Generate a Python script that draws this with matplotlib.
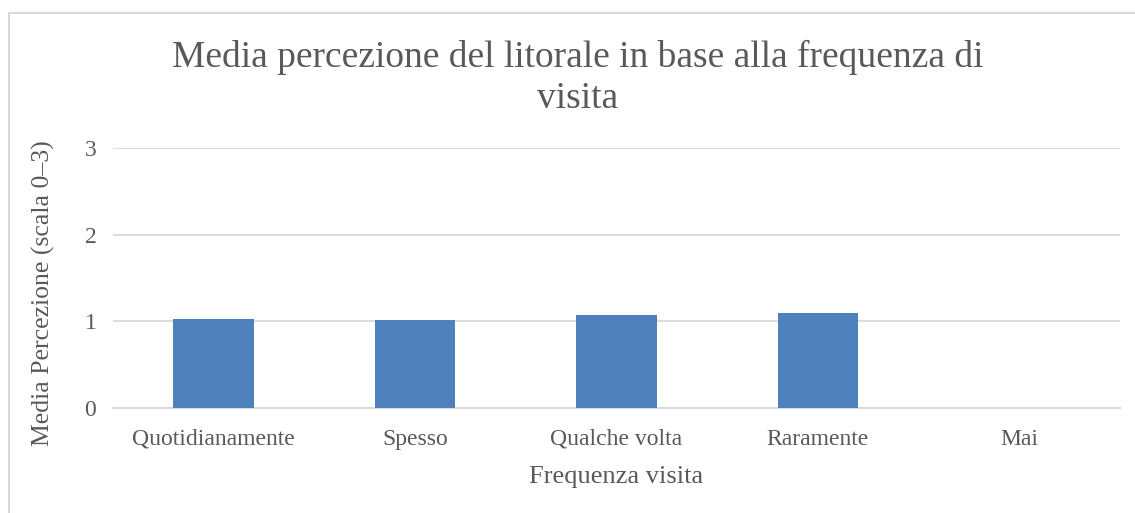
import matplotlib.pyplot as plt
from matplotlib.lines import Line2D

categories = ["Quotidianamente", "Spesso", "Qualche volta", "Raramente", "Mai"]
media_percezione = [1.03, 1.01, 1.07, 1.09, 0.0]
y_ticks = [0, 1, 2, 3]

plt.rcParams["font.family"] = ["Liberation Serif", "DejaVu Serif"]
text_color = "#595959"

fig = plt.figure(figsize=(11.35, 5.13), dpi=100)
ax = fig.add_axes([113 / 1135, 105.3 / 513, 1007 / 1135, 259.7 / 513])

# Chart border (Excel-style): only top and left edges are inside the picture
bx, by = 8.5 / 1135, 1 - 12.5 / 513
fig.lines.append(Line2D([bx, 1.0], [by, by], transform=fig.transFigure,
                        color="#D9D9D9", linewidth=1.5))
fig.lines.append(Line2D([bx, bx], [0.0, by], transform=fig.transFigure,
                        color="#D9D9D9", linewidth=1.5))

ax.bar(range(len(categories)), media_percezione, width=0.4,
       color="#4F81BD", zorder=3)

ax.set_xlim(-0.5, len(categories) - 0.5)
ax.set_ylim(0, 3)
ax.set_yticks(y_ticks)
ax.set_xticks(range(len(categories)))
ax.set_xticklabels(categories)
ax.tick_params(axis="both", length=0, labelsize=17, colors=text_color)
ax.tick_params(axis="x", pad=15)
ax.tick_params(axis="y", pad=12)

ax.grid(axis="y", color="#D9D9D9", linewidth=1.3, zorder=0)
ax.set_axisbelow(True)
for side in ["top", "right", "left"]:
    ax.spines[side].set_visible(False)
ax.spines["bottom"].set_color("#D9D9D9")
ax.spines["bottom"].set_linewidth(1.5)

ax.set_xlabel("Frequenza visita", fontsize=19, color=text_color, labelpad=12)
ax.set_ylabel("Media Percezione (scala 0–3)", fontsize=18.5, color=text_color)
ax.yaxis.set_label_coords(-58 / 1007, (407.7 - 293) / 259.7)

fig.text(578 / 1135, 1 - 78 / 513,
         "Media percezione del litorale in base alla frequenza di\nvisita",
         ha="center", va="center", fontsize=27, color=text_color,
         linespacing=1.22)

fig.savefig("out.png", dpi=100, facecolor="white")
